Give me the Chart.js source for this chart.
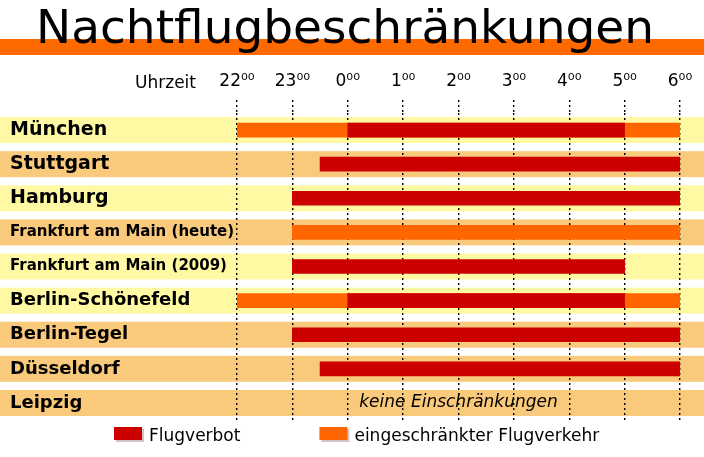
<!DOCTYPE html>
<html lang="de">
<head>
<meta charset="utf-8">
<title>Nachtflugbeschränkungen</title>
<script src="https://cdn.jsdelivr.net/npm/chart.js@4.4.1/dist/chart.umd.min.js"></script>
<style>
  html, body { margin: 0; padding: 0; background: #fff; }
  #wrap { width: 704px; height: 457px; }
</style>
</head>
<body>
<div id="wrap"><canvas id="chart" width="704" height="457"></canvas></div>
<script>
/* global Chart */

// Flughäfen
var orte = ["München", "Stuttgart", "Hamburg", "Frankfurt am Main (heute)",
  "Frankfurt am Main (2009)", "Berlin-Schönefeld", "Berlin-Tegel", "Düsseldorf", "Leipzig"];

// Uhrzeit in Stunden, nach Mitternacht +24 (0:00 = 24, 6:00 = 30)
var stunden = [22, 23, 24, 25, 26, 27, 28, 29, 30];
var stundenLabels = ["22⁰⁰", "23⁰⁰", "0⁰⁰", "1⁰⁰", "2⁰⁰", "3⁰⁰", "4⁰⁰", "5⁰⁰", "6⁰⁰"];

// Flugverbot von / bis
var verbotVon = [24, 23.5, 23, null, 23, 24, 23, 23.5, null];
var verbotBis = [29, 30, 30, null, 29, 29, 30, 30, null];

// eingeschränkter Flugverkehr von / bis
var eingeschraenktVon = [22, null, null, 23, null, 22, null, null, null];
var eingeschraenktBis = [30, null, null, 30, null, 30, null, null, null];

var keineText = "keine Einschränkungen";

var ROT = "#cc0000";
var ORANGE = "#ff6600";
var GELB = "#fff9a3";
var HELLORANGE = "#f9c97c";
var streifen = [GELB, HELLORANGE, GELB, HELLORANGE, GELB, GELB, HELLORANGE, HELLORANGE, HELLORANGE];
var labelGroesse = [19, 19, 19, 15, 15, 18, 18, 18, 18];
var SCHRIFT = "'DejaVu Sans', sans-serif";
var TITEL_HOEHE = 3 + 47 * 1.2; // padding oben + Zeilenhöhe

function paare(von, bis) {
  return von.map(function(v, i) {
    return v === null ? null : [v, bis[i]];
  });
}

var dekor = {
  id: "dekor",
  beforeDraw: function(chart) {
    var ctx = chart.ctx;
    var yScale = chart.scales.y;
    ctx.save();
    ctx.fillStyle = "#fff";
    ctx.fillRect(0, 0, chart.width, chart.height);
    // orangefarbener Balken hinter dem Titel
    ctx.fillStyle = "#ff6a00";
    ctx.fillRect(0, 39, chart.width, 16);
    // Zeilenstreifen
    orte.forEach(function(ort, i) {
      var mitte = yScale.getPixelForValue(i);
      ctx.fillStyle = streifen[i];
      ctx.fillRect(0, mitte - 13, chart.width, 26);
    });
    ctx.restore();
  },
  afterDraw: function(chart) {
    var ctx = chart.ctx;
    var xScale = chart.scales.x;
    var yScale = chart.scales.y;
    ctx.save();
    ctx.fillStyle = "#000";

    // "Uhrzeit"
    ctx.font = "17px " + SCHRIFT;
    ctx.textAlign = "left";
    ctx.textBaseline = "alphabetic";
    ctx.fillText("Uhrzeit", 135, 88);

    // Zeilen ohne Einschränkung
    ctx.font = "italic 17px " + SCHRIFT;
    ctx.textAlign = "center";
    ctx.textBaseline = "middle";
    orte.forEach(function(ort, i) {
      if (verbotVon[i] === null && eingeschraenktVon[i] === null) {
        ctx.fillText(keineText, xScale.getPixelForValue(26), yScale.getPixelForValue(i));
      }
    });

    // Legende
    ctx.font = "17px " + SCHRIFT;
    ctx.textAlign = "left";
    ctx.textBaseline = "alphabetic";
    var sets = chart.data.datasets;
    var breiten = sets.map(function(ds) { return ctx.measureText(ds.label).width; });
    var gesamt = 0;
    breiten.forEach(function(w) { gesamt += 28 + 7 + w; });
    gesamt += 79 * (sets.length - 1);
    var x = Math.round(357 - gesamt / 2);
    sets.forEach(function(ds, i) {
      ctx.fillStyle = "rgba(120,90,80,0.35)";
      ctx.fillRect(x + 2, 429, 28, 13);
      ctx.fillStyle = ds.backgroundColor;
      ctx.fillRect(x, 427, 28, 13);
      ctx.fillStyle = "#000";
      ctx.fillText(ds.label, x + 35, 441);
      x += 28 + 7 + breiten[i] + 79;
    });
    ctx.restore();
  }
};

new Chart(document.getElementById("chart").getContext("2d"), {
  type: "bar",
  data: {
    labels: orte,
    datasets: [
      {
        label: "Flugverbot",
        data: paare(verbotVon, verbotBis),
        backgroundColor: ROT
      },
      {
        label: "eingeschränkter Flugverkehr",
        data: paare(eingeschraenktVon, eingeschraenktBis),
        backgroundColor: ORANGE
      }
    ]
  },
  options: {
    indexAxis: "y",
    responsive: false,
    animation: false,
    grouped: false,
    barThickness: 14,
    borderSkipped: false,
    layout: { padding: { left: 10, right: 24, top: 0, bottom: 37 } },
    plugins: {
      legend: { display: false },
      tooltip: { enabled: false },
      title: {
        display: true,
        text: "Nachtflugbeschränkungen",
        color: "#000",
        font: { family: SCHRIFT, size: 47, weight: "normal", lineHeight: 1.2 },
        padding: { top: 3, bottom: 0 }
      }
    },
    scales: {
      x: {
        type: "linear",
        position: "top",
        min: stunden[0],
        max: stunden[stunden.length - 1],
        afterFit: function(scale) { scale.height = 113 - TITEL_HOEHE; },
        ticks: {
          stepSize: 1,
          autoSkip: false,
          maxRotation: 0,
          padding: 8,
          color: "#000",
          font: { family: SCHRIFT, size: 17 },
          callback: function(v) { return stundenLabels[stunden.indexOf(v)]; }
        },
        grid: {
          color: "#000",
          lineWidth: 1.4,
          tickLength: 13,
          tickColor: "#000",
          tickWidth: 1.4,
          tickBorderDash: [2, 3]
        },
        border: { display: false, dash: [2, 3] }
      },
      y: {
        afterFit: function(scale) { scale.width = 227; },
        grid: { display: false },
        border: { display: false },
        ticks: {
          crossAlign: "far",
          color: "#000",
          font: function(c) {
            return { family: SCHRIFT, weight: "bold", size: labelGroesse[c.index] };
          }
        }
      }
    }
  },
  plugins: [dekor]
});
</script>
</body>
</html>
